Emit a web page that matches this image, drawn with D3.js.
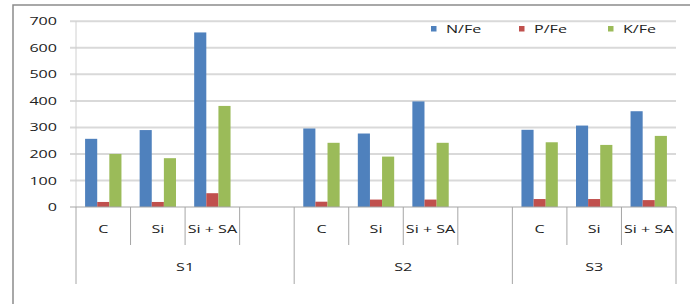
<!DOCTYPE html>
<html>
<head>
<meta charset="utf-8">
<script src="https://cdn.jsdelivr.net/npm/d3@7"></script>
<style>
  body { margin: 0; background: #fff; }
  text { font-family: "Open Sans", sans-serif; fill: #222; }
</style>
</head>
<body>
<svg id="chart" width="692" height="304"></svg>
<script>
// data
var groups = ["S1", "S2", "S3"];
var treatments = ["C", "Si", "Si + SA"];
var seriesNames = ["N/Fe", "P/Fe", "K/Fe"];
var seriesColors = ["#4f81bd", "#c0504d", "#9bbb59"];
var nFe = [257, 290, 658, 296, 277, 398, 291, 307, 361];
var pFe = [19, 19, 52, 20, 28, 28, 30, 30, 26];
var kFe = [200, 184, 381, 242, 190, 242, 244, 234, 268];
var yTicks = [0, 100, 200, 300, 400, 500, 600, 700];

var svg = d3.select("#chart");
var SX = 1.4; // text in the picture is stretched sideways

function label(x, y, txt, anchor, size) {
  svg.append("text")
    .attr("transform", "translate(" + x + "," + y + ") scale(" + SX + ",1)")
    .attr("text-anchor", anchor || "middle")
    .attr("dy", "0.35em")
    .attr("font-size", (size || 11.5) + "px")
    .text(txt);
}

// slots: 3 treatments per group, one empty slot between groups
var slots = [];
groups.forEach(function (g, gi) {
  treatments.forEach(function (t) { slots.push(g + "|" + t); });
  if (gi < groups.length - 1) slots.push(g + "|blank");
});

var x = d3.scaleBand().domain(slots).range([76, 676]);
var xs = d3.scaleBand().domain(seriesNames).range([0, x.bandwidth()]).paddingOuter(0.75);
var y = d3.scaleLinear().domain([0, 700]).range([207, 21.3]);

// outer frame (top + left visible)
svg.append("path")
  .attr("d", "M13,304 V5 H690")
  .attr("fill", "none")
  .attr("stroke", "#8c8c8c")
  .attr("stroke-width", 1.5);

// gridlines
svg.selectAll(".grid").data(yTicks.slice(1)).enter().append("line")
  .attr("x1", 70).attr("x2", 676)
  .attr("y1", function (d) { return y(d); })
  .attr("y2", function (d) { return y(d); })
  .attr("stroke", "#d9d9d9").attr("stroke-width", 2);

// y axis line
svg.append("line")
  .attr("x1", 76).attr("x2", 76).attr("y1", y(700)).attr("y2", y(0))
  .attr("stroke", "#d0d0d0").attr("stroke-width", 1);

yTicks.forEach(function (d) { label(57, y(d), d, "end"); });

// bars
var rows = [];
groups.forEach(function (g, gi) {
  treatments.forEach(function (t, ti) {
    var k = gi * 3 + ti;
    [nFe[k], pFe[k], kFe[k]].forEach(function (v, si) {
      rows.push({ slot: g + "|" + t, s: seriesNames[si], v: v, c: seriesColors[si] });
    });
  });
});

svg.selectAll(".bar").data(rows).enter().append("rect")
  .attr("x", function (d) { return x(d.slot) + xs(d.s); })
  .attr("width", xs.bandwidth())
  .attr("y", function (d) { return y(d.v); })
  .attr("height", function (d) { return y(0) - y(d.v); })
  .attr("fill", function (d) { return d.c; });

// category axis
svg.append("line")
  .attr("x1", 70).attr("x2", 676).attr("y1", y(0)).attr("y2", y(0))
  .attr("stroke", "#a6a6a6").attr("stroke-width", 1.2);

var bounds = d3.range(slots.length + 1);
var groupStarts = [0, 4, 8, 11];
svg.selectAll(".tick").data(bounds).enter().append("line")
  .attr("x1", function (i) { return 76 + i * x.step(); })
  .attr("x2", function (i) { return 76 + i * x.step(); })
  .attr("y1", y(0))
  .attr("y2", function (i) { return groupStarts.indexOf(i) >= 0 ? 284 : 245; })
  .attr("stroke", "#a6a6a6").attr("stroke-width", 1);

slots.forEach(function (s) {
  var t = s.split("|")[1];
  if (t !== "blank") label(x(s) + x.bandwidth() / 2, 229, t);
});

groups.forEach(function (g, gi) {
  var a = 76 + groupStarts[gi] * x.step();
  var b = 76 + groupStarts[gi + 1] * x.step();
  label((a + b) / 2, 267, g);
});

// legend
var legX = [431, 519, 608];
seriesNames.forEach(function (n, i) {
  svg.append("rect")
    .attr("x", legX[i]).attr("y", 26)
    .attr("width", 5.5).attr("height", 5.5)
    .attr("fill", seriesColors[i]);
  label(legX[i] + 15, 29, n, "start");
});
</script>
</body>
</html>
